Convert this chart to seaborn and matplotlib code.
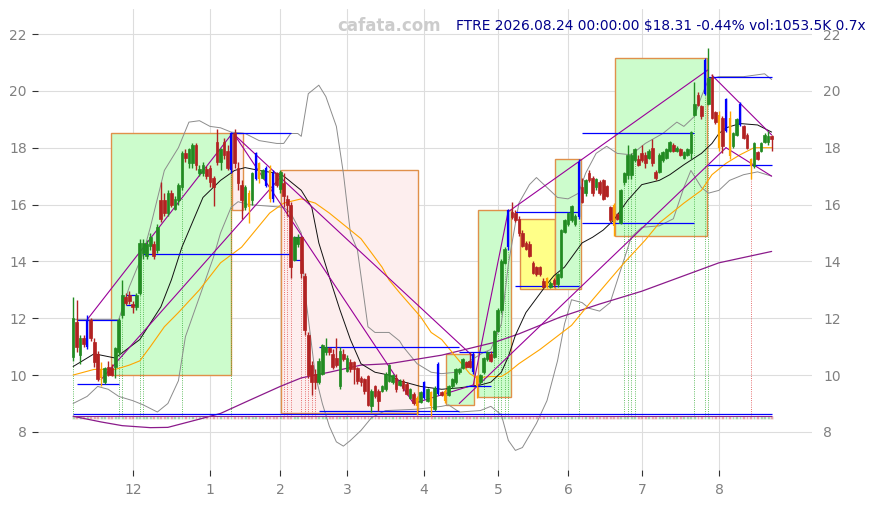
import numpy as np
import pandas as pd
import seaborn as sns
import matplotlib.pyplot as plt
from matplotlib.patches import Rectangle

# daily candles, FTRE, Nov 2025 - Aug 2026
opens = [10.65, 11.87, 10.7, 11.3, 11.0, 11.95, 11.15, 10.75, 9.9, 9.75,
         10.3, 10.25, 10.3, 10.8, 12.1, 12.75, 12.8, 12.5, 12.4, 12.9,
         14.3, 14.2, 14.55, 14.6, 14.4, 16.15, 16.15, 15.7, 16.4, 15.85,
         16.15, 16.6, 17.8, 17.45, 17.45, 18.1, 17.1, 17.1, 17.25, 17.3,
         16.95, 18.2, 17.5, 18.2, 17.9, 17.2, 18.5, 17.3, 16.7, 15.9,
         16.4, 16.15, 16.9, 17.45, 16.95, 17.3, 17.2, 17.1, 17.1, 16.55,
         16.75, 16.2, 16.0, 14.05, 14.6, 14.85, 13.5, 11.4, 10.35, 10.05,
         9.75, 10.05, 10.8, 10.95, 10.75, 10.6, 9.6, 10.75, 10.15, 10.45,
         10.45, 10.25, 9.9, 9.85, 9.95, 8.9, 9.6, 9.45, 9.45, 9.5,
         9.8, 9.75, 9.9, 9.65, 9.8, 9.7, 9.2, 9.35, 9.2, 9.05,
         9.2, 9.1, 9.4, 8.8, 9.35, 9.4, 9.45, 9.3, 9.6, 9.75,
         10.1, 10.25, 10.45, 10.5, 10.1, 9.95, 9.75, 10.1, 10.55, 10.75,
         10.65, 11.55, 12.3, 13.95, 14.5, 15.75, 15.7, 15.5, 15.0, 14.65,
         14.6, 13.95, 13.8, 13.8, 13.3, 13.1, 13.1, 13.35, 13.2, 13.45,
         15.05, 15.3, 15.45, 15.3, 15.55, 16.6, 16.4, 17.1, 16.95, 16.6,
         16.8, 16.85, 16.65, 15.9, 16.0, 15.65, 15.35, 16.8, 17.05, 17.05,
         17.55, 17.6, 17.8, 17.75, 17.65, 18.0, 17.15, 17.15, 17.55, 17.65,
         17.9, 18.1, 17.9, 17.95, 17.65, 17.75, 17.8, 19.15, 19.85, 19.45,
         19.9, 19.55, 20.5, 19.25, 19.15, 19.05, 18.6, 19.05, 18.05, 18.45,
         18.8, 18.75, 18.45, 17.6, 17.35, 17.85, 17.9, 18.2, 18.2, 18.4]
highs = [12.75, 12.65, 11.4, 11.4, 12.1, 12.0, 11.3, 10.85, 10.45, 10.3,
         10.5, 10.4, 11.0, 12.0, 13.35, 12.9, 12.95, 12.6, 12.9, 14.8,
         14.8, 14.75, 15.0, 14.7, 15.3, 16.8, 16.4, 16.5, 16.5, 16.3,
         16.75, 17.9, 17.95, 18.0, 18.15, 18.15, 17.4, 17.5, 17.35, 17.4,
         17.0, 18.65, 18.0, 18.35, 18.1, 18.55, 18.65, 17.5, 16.85, 16.7,
         16.5, 17.15, 17.85, 17.5, 17.25, 17.35, 17.4, 17.2, 17.15, 17.2,
         17.1, 16.35, 16.1, 14.9, 14.95, 14.9, 13.6, 11.5, 10.5, 10.2,
         10.6, 11.1, 11.3, 11.0, 10.9, 11.3, 11.0, 10.9, 10.7, 10.55,
         10.5, 10.3, 9.95, 9.9, 10.0, 9.5, 9.65, 9.5, 9.65, 10.1,
         10.4, 10.05, 10.05, 9.85, 9.85, 9.75, 9.55, 9.4, 9.25, 9.45,
         9.8, 9.55, 9.45, 9.6, 10.45, 9.45, 9.5, 9.65, 9.9, 10.25,
         10.25, 10.6, 10.5, 10.8, 10.8, 10.0, 10.05, 10.65, 10.85, 10.85,
         11.6, 12.35, 14.1, 14.5, 15.85, 16.1, 15.8, 15.6, 15.1, 14.7,
         14.7, 14.0, 13.85, 13.85, 13.4, 13.45, 13.3, 13.4, 13.6, 15.15,
         15.5, 15.75, 16.0, 15.65, 17.6, 16.95, 16.9, 17.2, 17.0, 16.95,
         16.85, 16.9, 16.7, 15.95, 16.05, 15.7, 16.55, 17.15, 18.1, 17.8,
         18.0, 17.75, 18.1, 17.85, 17.95, 18.3, 17.2, 17.8, 17.9, 18.0,
         18.25, 18.15, 18.05, 18.0, 17.9, 18.0, 18.6, 20.3, 19.95, 19.5,
         21.15, 21.5, 20.6, 19.3, 19.3, 19.1, 19.75, 19.3, 18.55, 19.05,
         19.6, 18.8, 18.5, 17.65, 18.2, 17.9, 18.2, 18.5, 18.6, 18.45]
lows = [10.5, 10.8, 10.4, 11.0, 10.9, 11.2, 10.3, 9.8, 9.6, 9.7,
        9.95, 9.95, 9.9, 10.7, 12.0, 12.45, 12.5, 12.2, 12.3, 12.8,
        14.1, 14.1, 14.4, 14.1, 14.3, 15.4, 15.6, 15.6, 15.9, 15.8,
        16.0, 16.5, 17.5, 17.3, 17.3, 17.2, 17.0, 17.0, 16.9, 16.6,
        15.95, 17.4, 17.2, 17.6, 17.2, 17.1, 17.3, 16.5, 15.5, 15.8,
        15.35, 16.0, 16.85, 16.75, 16.9, 16.6, 16.1, 16.1, 16.6, 16.4,
        15.9, 15.6, 13.4, 14.0, 14.5, 13.4, 11.4, 9.9, 9.3, 9.5,
        9.7, 10.0, 10.7, 10.7, 10.2, 10.3, 9.5, 10.5, 10.1, 10.1,
        9.7, 9.7, 9.6, 9.35, 8.9, 8.7, 9.2, 8.75, 9.4, 9.45,
        9.75, 9.7, 9.4, 9.6, 9.45, 9.3, 9.15, 8.95, 8.6, 9.0,
        9.15, 9.05, 8.55, 8.75, 9.3, 9.25, 9.0, 9.25, 9.55, 9.7,
        10.05, 10.2, 10.25, 10.25, 10.05, 9.2, 9.7, 10.05, 10.5, 10.45,
        10.6, 11.5, 12.2, 13.9, 14.4, 15.5, 15.4, 14.9, 14.5, 14.4,
        14.15, 13.55, 13.5, 13.5, 13.05, 13.05, 13.05, 13.1, 13.1, 13.4,
        15.0, 15.25, 15.4, 15.25, 15.5, 16.05, 16.3, 16.8, 16.3, 16.5,
        16.35, 16.15, 16.25, 15.4, 14.9, 15.45, 15.3, 16.7, 16.9, 16.9,
        17.5, 17.35, 17.5, 17.3, 17.6, 17.35, 16.85, 17.1, 17.5, 17.6,
        17.85, 17.85, 17.85, 17.7, 17.6, 17.7, 17.6, 19.1, 19.45, 19.0,
        19.85, 19.5, 19.0, 18.85, 17.9, 17.8, 18.55, 17.6, 18.0, 18.4,
        18.75, 18.3, 17.95, 16.9, 17.3, 17.55, 17.85, 18.15, 18.1, 17.9]
closes = [12.0, 11.0, 11.3, 11.1, 11.95, 11.3, 10.45, 9.85, 10.2, 10.25,
          10.0, 10.0, 10.95, 11.95, 12.8, 12.55, 12.6, 12.4, 12.8, 14.65,
          14.65, 14.6, 14.85, 14.2, 15.2, 15.5, 15.7, 16.4, 16.0, 16.2,
          16.7, 17.8, 17.65, 17.95, 18.1, 17.4, 17.25, 17.4, 17.0, 16.8,
          16.6, 17.5, 17.95, 17.75, 17.3, 18.5, 17.45, 16.75, 16.15, 16.6,
          15.9, 17.1, 17.8, 16.9, 17.2, 16.65, 16.2, 16.2, 16.7, 17.15,
          16.3, 16.0, 13.8, 14.85, 14.85, 13.6, 11.6, 10.0, 9.75, 9.75,
          10.5, 11.05, 11.0, 10.8, 10.3, 10.35, 10.85, 10.55, 10.6, 10.2,
          10.2, 9.8, 9.75, 9.45, 8.95, 9.45, 9.25, 9.1, 9.6, 10.05,
          10.35, 10.0, 9.5, 9.8, 9.55, 9.35, 9.5, 9.0, 8.9, 9.4,
          9.75, 9.5, 8.9, 9.55, 10.4, 9.3, 9.1, 9.6, 9.85, 10.2,
          10.2, 10.55, 10.3, 10.3, 10.75, 9.6, 10.0, 10.6, 10.8, 10.5,
          11.55, 12.3, 14.0, 14.45, 15.8, 15.55, 15.45, 15.0, 14.55, 14.45,
          14.2, 13.6, 13.55, 13.55, 13.1, 13.4, 13.25, 13.2, 13.55, 15.1,
          15.45, 15.7, 15.95, 15.6, 17.5, 16.1, 16.85, 16.85, 16.4, 16.9,
          16.4, 16.2, 16.3, 15.45, 15.25, 15.5, 16.5, 17.1, 17.75, 17.75,
          17.95, 17.4, 17.55, 17.45, 17.9, 17.45, 16.95, 17.75, 17.85, 17.95,
          18.2, 17.9, 18.0, 17.75, 17.85, 17.95, 18.55, 19.55, 19.5, 19.1,
          21.1, 20.45, 19.05, 18.9, 18.0, 18.05, 19.7, 17.7, 18.5, 19.0,
          19.55, 18.35, 18.0, 17.35, 18.15, 17.6, 18.15, 18.45, 18.4, 18.31]

blue_bars = [4, 45, 52, 55, 57, 100, 104, 114, 124, 144, 180, 186, 190]
orange_bars = [8, 50, 53, 56, 98, 102, 106, 115, 135, 154, 184, 187, 193]
green_signals = [0, 13, 14, 19, 20, 31, 45, 117, 120, 121, 122, 123, 124,
                 144, 157, 158, 159, 160, 177, 180, 181]
red_signals = [60, 61, 62, 65, 66, 67, 68, 69, 193]

holidays = ["2025-11-27", "2025-12-25", "2026-01-01", "2026-01-19", "2026-02-16",
            "2026-04-03", "2026-05-25", "2026-06-19", "2026-07-03"]

# indicator lines (bar index, price)
ma_black_x = [0, 6, 12, 19, 25, 28, 31, 37, 42, 46, 49, 53, 58, 60, 65, 68, 70, 73,
              76, 79, 82, 86, 90, 93, 99, 105, 110, 116, 119, 122, 124, 126, 129,
              132, 135, 137, 140, 145, 148, 151, 154, 158, 162, 167, 170, 174, 179,
              182, 184, 186, 190, 195, 199]
ma_black = [10.3, 10.75, 10.6, 11.25, 12.4, 13.35, 14.5, 16.25, 16.85, 17.2, 17.3,
            17.2, 17.1, 17.0, 16.5, 15.9, 14.65, 13.45, 12.3, 11.25, 10.4, 10.1,
            10.0, 9.8, 9.6, 9.5, 9.55, 9.65, 9.75, 10.1, 10.65, 11.4, 12.2, 12.7,
            13.2, 13.5, 13.8, 14.65, 14.85, 15.1, 15.45, 16.15, 16.7, 16.85, 17.05,
            17.4, 17.8, 18.15, 18.5, 18.7, 18.85, 18.8, 18.55]
ma_orange_x = [0, 6, 12, 16, 19, 22, 26, 30, 36, 42, 48, 52, 56, 60, 65, 69, 73, 78,
               82, 85, 88, 90, 93, 99, 102, 105, 109, 113, 115, 119, 122, 124, 127,
               133, 142, 148, 157, 163, 167, 174, 179, 182, 186, 190, 194, 199]
ma_orange = [10.0, 10.2, 10.2, 10.35, 10.5, 11.0, 11.7, 12.2, 13.0, 13.95, 14.5,
             15.1, 15.7, 16.05, 16.2, 16.05, 15.7, 15.2, 14.8, 14.3, 13.8, 13.35,
             12.9, 12.05, 11.5, 11.25, 10.65, 10.05, 9.9, 9.95, 9.95, 10.1, 10.4,
             10.9, 11.75, 12.65, 13.95, 14.75, 15.35, 16.05, 16.5, 17.05, 17.45,
             17.75, 18.0, 18.0]
ma_long_x = [0, 8, 14, 22, 27, 36, 42, 50, 59, 65, 73, 82, 90, 105, 120, 127, 139,
             150, 162, 173, 184, 199]
ma_long = [8.55, 8.35, 8.22, 8.15, 8.16, 8.45, 8.65, 9.1, 9.6, 9.9, 10.1, 10.35,
           10.4, 10.7, 11.15, 11.45, 12.05, 12.5, 12.95, 13.45, 13.95, 14.35]
band_up_x = [0, 13, 16, 20, 22, 26, 30, 33, 36, 39, 42, 45, 49, 53, 58, 60, 62, 64,
             65, 67, 70, 72, 75, 77, 79, 81, 84, 86, 90, 93, 94, 98, 102, 105, 109,
             113, 117, 119, 122, 124, 127, 130, 132, 135, 138, 141, 144, 146, 149,
             152, 155, 159, 163, 168, 172, 174, 177, 179, 181, 184, 191, 197, 199]
band_up = [11.95, 11.95, 13.1, 14.3, 15.2, 17.2, 18.0, 18.9, 18.95, 18.75, 18.7,
           18.55, 18.5, 18.25, 18.15, 18.15, 18.5, 18.5, 18.4, 19.9, 20.2, 19.8,
           18.75, 17.1, 15.0, 14.4, 11.7, 11.5, 11.5, 11.2, 11.0, 10.4, 10.1,
           10.05, 10.1, 10.5, 10.8, 10.9, 11.8, 13.9, 16.05, 16.7, 16.95, 16.6,
           16.25, 16.2, 16.4, 17.1, 17.8, 18.05, 17.8, 17.75, 18.15, 18.5, 18.9,
           18.75, 19.1, 19.8, 20.4, 20.5, 20.5, 20.6, 20.4]
band_low_x = [0, 4, 7, 10, 13, 17, 20, 24, 27, 30, 32, 36, 40, 42, 45, 47, 50, 55,
              60, 62, 65, 66, 68, 69, 71, 73, 75, 77, 79, 82, 85, 89, 98, 105, 107,
              110, 116, 119, 122, 124, 126, 128, 132, 135, 138, 140, 142, 145, 147,
              150, 153, 156, 159, 162, 167, 171, 174, 176, 179, 181, 184, 187, 191,
              195, 199]
band_low = [9.0, 9.25, 9.6, 9.5, 9.25, 9.1, 8.95, 8.7, 9.0, 9.8, 11.35, 12.75, 14.15,
            15.0, 15.9, 16.1, 16.0, 15.95, 15.9, 15.7, 15.0, 13.0, 11.0, 10.0, 9.0,
            8.2, 7.65, 7.5, 7.7, 8.05, 8.5, 8.75, 8.8, 8.9, 8.95, 8.7, 8.75, 8.9,
            8.6, 7.7, 7.35, 7.45, 8.3, 9.1, 10.5, 11.8, 12.65, 12.55, 12.35, 12.25,
            12.55, 13.7, 14.85, 15.2, 15.25, 15.5, 16.6, 17.2, 16.6, 16.4, 16.5,
            16.85, 17.05, 17.15, 17.0]

# trend lines (i0, v0, i1, v1)
trend_lines = [(4, 11.95, 45, 18.45), (8, 9.85, 59, 16.95), (46, 18.45, 97, 9.0),
               (46, 18.45, 114, 10.65), (97, 9.0, 114, 9.65), (114, 9.65, 124, 15.8),
               (110, 9.0, 186, 18.0), (124, 15.75, 181, 20.75),
               (182, 20.55, 199, 18.45), (186, 18.0, 199, 17.0)]
# blue levels (i0, i1, price)
levels = [(1, 13, 11.95), (1, 13, 9.7), (15, 18, 12.8), (15, 18, 12.45),
          (20, 62, 14.25), (45, 62, 18.5), (63, 65, 14.85), (63, 65, 14.05),
          (70, 110, 11.0), (70, 110, 8.75), (110, 120, 10.8), (112, 119, 9.6),
          (126, 144, 15.75), (126, 144, 13.15), (145, 177, 18.5), (145, 177, 15.35),
          (181, 199, 20.5), (181, 199, 17.4), (0, 199, 8.62)]
# zones (i0, i1, low, high, kind)
zones = [(10.8, 45.0, 10.0, 18.5, "up"), (45.3, 48.4, 15.8, 18.5, "down"),
         (59.3, 98.3, 8.65, 17.2, "down"), (106.3, 114.2, 8.95, 10.75, "up"),
         (115.4, 124.8, 9.23, 15.8, "up"), (127.4, 137.3, 13.03, 15.5, "flat"),
         (137.3, 144.7, 13.03, 17.6, "up"), (154.4, 180.6, 14.9, 21.15, "up")]

dates = pd.bdate_range("2025-11-05", "2026-08-24")
dates = dates[~dates.isin(pd.to_datetime(holidays))]
df = pd.DataFrame({"date": dates, "open": opens, "high": highs,
                   "low": lows, "close": closes})
df["i"] = np.arange(len(df))

sns.set_style("white")
plt.rcParams["font.family"] = ["DejaVu Sans"]

fig = plt.figure(figsize=(8.75, 5.05), dpi=100)
ax = fig.add_axes([38 / 875, 35 / 505, 774 / 875, 461 / 505])

GREEN, RED = "#228b22", "#b22222"
zone_face = {"up": "#ccfccc", "down": "#fdeeee", "flat": "#ffff88"}
for i0, i1, lo, hi, kind in zones:
    ax.add_patch(Rectangle((i0, lo), i1 - i0, hi - lo, facecolor=zone_face[kind],
                           edgecolor="#e0904a", lw=1, zorder=1))

# volume strip at the bottom
up = df["close"] >= df["open"]
ax.bar(df["i"], 0.12, bottom=8.45, width=0.8,
       color=np.where(up, GREEN, RED), alpha=0.45, zorder=2)

# signal markers
for i in green_signals:
    ax.vlines(i, 8.55, lows[i], colors="#33aa33", lw=0.6, linestyles=":", zorder=2)
for i in red_signals:
    ax.vlines(i, 8.55, lows[i], colors="#dd4444", lw=0.6, linestyles=":", zorder=2)

sns.lineplot(x=band_up_x, y=band_up, ax=ax, color="#8c8c8c", lw=0.7, zorder=3)
sns.lineplot(x=band_low_x, y=band_low, ax=ax, color="#8c8c8c", lw=0.7, zorder=3)
sns.lineplot(x=ma_long_x, y=ma_long, ax=ax, color="#8b1a8b", lw=0.9, zorder=3)
sns.lineplot(x=ma_orange_x, y=ma_orange, ax=ax, color="#ffa500", lw=0.8, zorder=3)
sns.lineplot(x=ma_black_x, y=ma_black, ax=ax, color="#111111", lw=0.7, zorder=3)

for i0, v0, i1, v1 in trend_lines:
    ax.plot([i0, i1], [v0, v1], color="#990099", lw=0.8, zorder=4)
for i0, i1, v in levels:
    ax.hlines(v, i0, i1, colors="blue", lw=0.9, zorder=4)
ax.hlines(8.57, 0, 199, colors="#8b1a8b", lw=0.7, zorder=4)

# candles
special = set(blue_bars) | set(orange_bars)
normal = df[~df["i"].isin(special)]
ncol = np.where(normal["close"] >= normal["open"], GREEN, RED)
ax.vlines(normal["i"], normal["low"], normal["high"], colors=ncol, lw=1.0, zorder=5)
ax.bar(normal["i"], (normal["close"] - normal["open"]).abs().clip(lower=0.04),
       bottom=normal[["open", "close"]].min(axis=1), width=0.78, color=ncol,
       edgecolor=ncol, lw=0.5, zorder=5)
for idx, col in [(blue_bars, "blue"), (orange_bars, "orange")]:
    s = df[df["i"].isin(idx)]
    ax.vlines(s["i"], s["low"], s["high"], colors=col, lw=1.0, zorder=6)
    ax.vlines(s["i"], s[["open", "close"]].min(axis=1), s[["open", "close"]].max(axis=1),
              colors=col, lw=1.6, zorder=6)

# axes cosmetics
month_pos = [k for k in range(1, len(dates)) if dates[k].month != dates[k - 1].month]
ax.set_xticks(month_pos)
ax.set_xticklabels([str(dates[k].month) for k in month_pos])
ax.set_yticks(range(8, 23, 2))
ax.set_xlim(-10, 210.5)
ax.set_ylim(6.66, 22.88)
ax.grid(True, color="#dddddd", lw=0.8)
ax.set_axisbelow(True)
for sp in ax.spines.values():
    sp.set_visible(False)
ax.tick_params(axis="x", bottom=True, length=4, color="#333333", labelcolor="#808080",
               labelsize=10, pad=5)
ax.tick_params(axis="y", left=True, right=False, labelright=True, length=4,
               color="#333333", labelcolor="#808080", labelsize=10, pad=4)
ax.set_xlabel("")
ax.set_ylabel("")

fig.text(0.4446, 0.9485, "cafata.com", color="#cccccc", fontsize=12,
         fontweight="bold", ha="center", va="center")
last = df.iloc[-1]
fig.text(0.989, 0.9485,
         f"FTRE 2026.08.24 00:00:00 ${last['close']:.2f} -0.44% vol:1053.5K 0.7x",
         color="#00008b", fontsize=9.9, ha="right", va="center")

fig.savefig("out.png", dpi=100)
